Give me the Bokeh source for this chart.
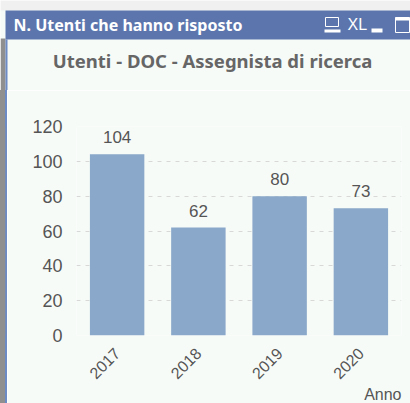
from math import pi
from bokeh.plotting import figure
from bokeh.layouts import column, row
from bokeh.models import ColumnDataSource, FixedTicker, Title
from bokeh.core.properties import value
from bokeh.embed import file_html
from bokeh.resources import INLINE

years = ["2017", "2018", "2019", "2020"]
users = [104, 62, 80, 73]
y_ticks = [0, 20, 40, 60, 80, 100, 120]
header = "N. Utenti che hanno risposto"
chart_title = "Utenti - DOC - Assegnista di ricerca"
x_name = "Anno"

BG = "#f7fbf8"
TXT = "#555555"
BLUE = "#5c76ad"
GREY = "#8f8f8f"
EDGE = "#6c8ac4"
TOP_H, BODY_H, STRIP_W = 90, 313, 7

# ---- window chrome: a figure whose frame is the whole canvas, in page pixels
top = figure(width=410, height=TOP_H, x_range=(0, 410), y_range=(TOP_H, 0),
             x_axis_location=None, y_axis_location=None, output_backend="svg", toolbar_location=None, tools="",
             min_border=0)
top.grid.visible = False
top.outline_line_color = None
top.background_fill_color = BG
top.border_fill_color = BG
top.quad(left=[0, 0, 5, 5], right=[410, 5, 7, 410], top=[0, 38, 39, 10], bottom=[10, TOP_H, TOP_H, 39],
         fill_color=["#f0f0f0", GREY, EDGE, BLUE], line_color=None)
top.text(x=[13], y=[24], text=[header], text_color="#ffffff", text_font=value("Noto Sans"), text_font_style="bold",
         text_font_size="16px", text_baseline="middle")
top.text(x=[347], y=[24], text=["XL"], text_color="#ffffff", text_font=value("Liberation Sans"),
         text_font_size="16px", text_baseline="middle")
top.text(x=[212], y=[60], text=[chart_title], text_color="#666666", text_font=value("Noto Sans"),
         text_font_style="bold", text_font_size="18.5px", text_align="center", text_baseline="middle")
top.quad(left=[325], right=[338], top=[17], bottom=[26], fill_color=None, line_color="#ffffff", line_width=1)
top.quad(left=[324, 371, 395], right=[340, 382, 409], top=[29, 28, 17], bottom=[32, 32, 20],
         fill_color="#ffffff", line_color=None)
top.quad(left=[395], right=[409], top=[17], bottom=[32], fill_color=None, line_color="#ffffff", line_width=1)

# ---- left edge of the window: painted by the element itself, over its full height
strip = figure(width=STRIP_W, height=BODY_H, x_range=(0, STRIP_W), y_range=(0, 1),
               x_axis_location=None, y_axis_location=None, output_backend="svg", toolbar_location=None, tools="",
               min_border=0)
strip.grid.visible = False
strip.outline_line_color = None
strip.border_fill_color = None
strip.background_fill_color = None
strip.styles = {"background": f"linear-gradient(to right, {GREY} 5px, {EDGE} 5px)"}
strip.quad(left=[0, 5], right=[5, 7], top=[1, 1], bottom=[0, 0], fill_color=[GREY, EDGE], line_color=None)

# ---- chart
p = figure(width=410 - STRIP_W, height=BODY_H, x_range=years, y_range=(0, 120),
           output_backend="svg", toolbar_location=None, tools="",
           min_border_left=69, min_border_right=9, min_border_top=36, min_border_bottom=68)
p.background_fill_color = BG
p.border_fill_color = BG
p.outline_line_color = None

src = ColumnDataSource(dict(x=years, y=users, t=[str(u) for u in users]))
p.vbar(x="x", top="y", width=0.67, source=src, fill_color="#8aa8c9", line_color=None)
p.text(x="x", y="y", text="t", source=src, text_align="center", text_baseline="bottom",
       y_offset=-11, text_font_size="17px", text_color=TXT, text_font=value("Liberation Sans"))

p.xgrid.visible = False
p.ygrid.grid_line_color = "#d8d8d8"
p.ygrid.grid_line_dash = "4 5"
p.ygrid.ticker = FixedTicker(ticks=y_ticks)
p.yaxis.ticker = FixedTicker(ticks=y_ticks)

for ax in (p.xaxis[0], p.yaxis[0]):
    ax.axis_line_color = None
    ax.major_tick_line_color = None
    ax.minor_tick_line_color = None
    ax.major_label_text_color = TXT
    ax.major_label_text_font = "Liberation Sans"
p.yaxis.major_label_text_font_size = "18px"
p.yaxis.major_label_standoff = 8
p.xaxis.major_label_text_font_size = "16px"
p.xaxis.major_label_orientation = pi / 4
p.xaxis.major_label_standoff = 9

p.add_layout(Title(text=x_name, align="right", text_color=TXT, text_font="Liberation Sans",
                   text_font_style="normal", text_font_size="16px", standoff=-7), "below")

page = column(top, row(strip, p, spacing=0), spacing=0)
open("out.html", "w").write(file_html(page, INLINE))
